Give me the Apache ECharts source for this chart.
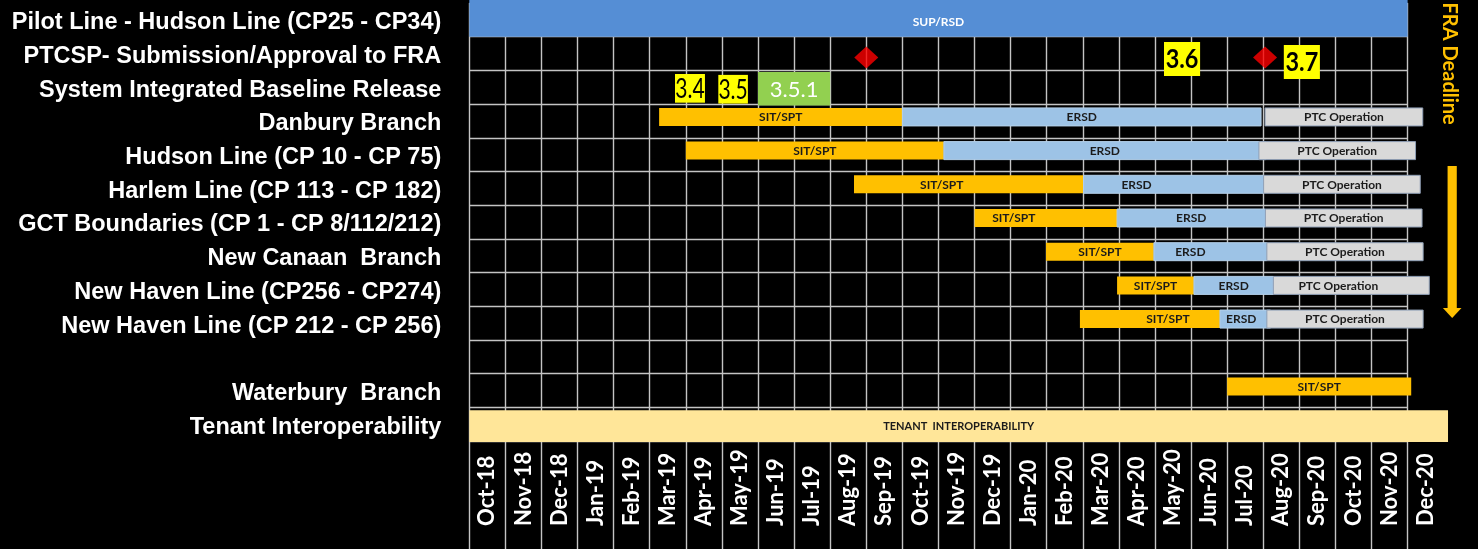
<!DOCTYPE html>
<html>
<head>
<meta charset="utf-8">
<title>PTC Implementation Schedule</title>
<script src="https://cdn.jsdelivr.net/npm/echarts@6/dist/echarts.min.js"></script>
<style>
  html, body { margin: 0; padding: 0; background: #000; }
  #chart { width: 1478px; height: 549px; }
</style>
</head>
<body>
<div id="chart"></div>
<script>
// Timeline columns (one per month). Positions below are in months counted from the start of Oct-18.
const months = ['Oct-18','Nov-18','Dec-18','Jan-19','Feb-19','Mar-19','Apr-19','May-19','Jun-19','Jul-19',
  'Aug-19','Sep-19','Oct-19','Nov-19','Dec-19','Jan-20','Feb-20','Mar-20','Apr-20','May-20','Jun-20',
  'Jul-20','Aug-20','Sep-20','Oct-20','Nov-20','Dec-20'];

// Schedule rows, top to bottom
const rowLabels = [
  'Pilot Line - Hudson Line (CP25 - CP34)',
  'PTCSP- Submission/Approval to FRA',
  'System Integrated Baseline Release',
  'Danbury Branch',
  'Hudson Line (CP 10 - CP 75)',
  'Harlem Line (CP 113 - CP 182)',
  'GCT Boundaries (CP 1 - CP 8/112/212)',
  'New Canaan  Branch',
  'New Haven Line (CP256 - CP274)',
  'New Haven Line (CP 212 - CP 256)',
  '',
  'Waterbury  Branch',
  'Tenant Interoperability'
];

// Full-row activity bars
const fullBarRows  = ['Pilot Line - Hudson Line (CP25 - CP34)', 'Tenant Interoperability'];
const fullBarText  = ['SUP/RSD', 'TENANT  INTEROPERABILITY'];
const fullBarStart = [0, 0];
const fullBarEnd   = [26, 27.12];

// Territory phases: SIT/SPT -> ERSD -> PTC Operation
const phaseRows = ['Danbury Branch', 'Hudson Line (CP 10 - CP 75)', 'Harlem Line (CP 113 - CP 182)',
  'GCT Boundaries (CP 1 - CP 8/112/212)', 'New Canaan  Branch', 'New Haven Line (CP256 - CP274)',
  'New Haven Line (CP 212 - CP 256)'];
const sitStart = [5.26, 6.0, 10.66, 14.0, 15.98, 17.95, 16.92];
const sitEnd   = [12.0, 13.15, 17.02, 17.95, 18.97, 20.08, 20.8];
const ersdEnd  = [21.94, 22.07, 22.01, 22.06, 22.1, 22.28, 22.2];
const ptcStart = [22.05, 21.88, 22.01, 22.06, 22.1, 22.28, 22.1];
const ptcEnd   = [26.42, 26.22, 26.35, 26.4, 26.43, 26.6, 26.43];

// Waterbury testing window
const waterburyStart = 21.0;
const waterburyEnd = 26.1;

// Software releases
const releaseNames = ['3.4', '3.5', '3.5.1', '3.6', '3.7'];
const releaseRows  = ['System Integrated Baseline Release', 'System Integrated Baseline Release',
  'System Integrated Baseline Release', 'PTCSP- Submission/Approval to FRA', 'PTCSP- Submission/Approval to FRA'];
const releaseStart = [5.70, 6.90, 8.0, 19.25, 22.57];
const releaseEnd   = [6.53, 7.72, 10.0, 20.25, 23.57];

// PTCSP submissions
const submissionMonths = [11.0, 22.05];
const submissionRow = 'PTCSP- Submission/Approval to FRA';

// Deadline marker
const deadlineLabel = 'FRA Deadline';
const deadlineMonth = 27.18;

// ---------- derived mark lists ----------
const segments = [];
phaseRows.forEach(function (row, i) {
  segments.push({ row: row, phase: 'sit',  label: 'SIT/SPT',       start: sitStart[i], end: sitEnd[i] });
  segments.push({ row: row, phase: 'ersd', label: 'ERSD',          start: sitEnd[i],   end: ersdEnd[i] });
  segments.push({ row: row, phase: 'ptc',  label: 'PTC Operation', start: ptcStart[i], end: ptcEnd[i] });
});
segments.push({ row: 'Waterbury  Branch', phase: 'sit', label: 'SIT/SPT', start: waterburyStart, end: waterburyEnd });

// ---------- styles ----------
const GRID_LINE = { color: '#c4c4c4', width: 1.4 };
const PHASE_STYLE = {
  sit:  { fill: '#FFC000', stroke: null },
  ersd: { fill: '#9DC3E6', stroke: '#b4d0ea' },
  ptc:  { fill: '#D9D9D9', stroke: '#8f9fb6' }
};
// horizontal nudges for a few bar captions (px)
const LABEL_SHIFT = {
  'Harlem Line (CP 113 - CP 182)|sit': -27,
  'Harlem Line (CP 113 - CP 182)|ersd': -37,
  'GCT Boundaries (CP 1 - CP 8/112/212)|sit': -32,
  'New Canaan  Branch|ersd': -20,
  'New Haven Line (CP256 - CP274)|ptc': -13,
  'New Haven Line (CP 212 - CP 256)|sit': 18,
  'New Haven Line (CP 212 - CP 256)|ersd': -4
};
const FULL_BAR_STYLE = [
  { fill: '#558ED5', color: '#ffffff', font: 'bold 12px Lato', topPad: -3, bottomPad: 0, textDy: 4 },
  { fill: '#FFE699', color: '#1b1b1b', font: 'bold 11px Lato', topPad: 3, bottomPad: 1, textDy: 0 }
];
const RELEASE_STYLE = {
  '3.4':   { fill: '#FFFF00', color: '#000', font: '27px Lato', sx: 0.78, dy: 1.1, h: 28.7 },
  '3.5':   { fill: '#FFFF00', color: '#000', font: '27px Lato', sx: 0.78, dy: 2.0, h: 28.7 },
  '3.5.1': { fill: '#92D050', color: '#fff', font: '22px Lato', sx: 1.0,  dy: 1.5, h: 33.3 },
  '3.6':   { fill: '#FFFF00', color: '#000', font: 'bold 26px Lato', sx: 0.9, dy: 5.5, h: 34 },
  '3.7':   { fill: '#FFFF00', color: '#000', font: 'bold 26px Lato', sx: 0.9, dy: 8.5, h: 34 }
};

function rowIndex(name) { return rowLabels.indexOf(name); }

function renderFullBar(params, api) {
  const i = params.dataIndex;
  const st = FULL_BAR_STYLE[i];
  const a = api.coord([api.value(0), api.value(2)]);
  const b = api.coord([api.value(1), api.value(2)]);
  const band = api.size([0, 1])[1];
  const top = a[1] - band / 2 + st.topPad;
  const bottom = a[1] + band / 2 + st.bottomPad;
  return {
    type: 'group',
    children: [
      { type: 'rect', shape: { x: a[0], y: top, width: b[0] - a[0], height: bottom - top }, style: { fill: st.fill } },
      { type: 'text', x: (a[0] + b[0]) / 2, y: (top + bottom) / 2 + st.textDy,
        style: { text: fullBarText[i], fill: st.color, font: st.font, align: 'center', verticalAlign: 'middle' } }
    ]
  };
}

function renderPhase(params, api) {
  const seg = segments[params.dataIndex];
  const st = PHASE_STYLE[seg.phase];
  const a = api.coord([api.value(0), api.value(2)]);
  const b = api.coord([api.value(1), api.value(2)]);
  const h = 18;
  const cy = a[1] - 4;
  const dx = LABEL_SHIFT[seg.row + '|' + seg.phase] || 0;
  return {
    type: 'group',
    children: [
      { type: 'rect', shape: { x: a[0], y: cy - h / 2, width: b[0] - a[0], height: h },
        style: { fill: st.fill, stroke: st.stroke || null, lineWidth: st.stroke ? 1 : 0 } },
      { type: 'text', x: (a[0] + b[0]) / 2 + dx, y: cy + 0.5,
        style: { text: seg.label, fill: '#1b1b1b', font: 'bold 12px Lato', align: 'center', verticalAlign: 'middle' } }
    ]
  };
}

function renderRelease(params, api) {
  const name = releaseNames[params.dataIndex];
  const st = RELEASE_STYLE[name];
  const a = api.coord([api.value(0), api.value(2)]);
  const b = api.coord([api.value(1), api.value(2)]);
  const cx = (a[0] + b[0]) / 2;
  const cy = a[1] + st.dy;
  return {
    type: 'group',
    children: [
      { type: 'rect', shape: { x: a[0], y: cy - st.h / 2, width: b[0] - a[0], height: st.h }, style: { fill: st.fill } },
      { type: 'text', x: cx, y: cy + 1, scaleX: st.sx,
        style: { text: name, fill: st.color, font: st.font, align: 'center', verticalAlign: 'middle' } }
    ]
  };
}

function renderDeadline(params, api) {
  const x = api.coord([api.value(0), 0])[0];
  const band = api.size([0, 1])[1];
  const top = api.coord([0, 0])[1] - band / 2;
  const textY = top + band * 1.8;
  const arrowTop = top + band * 4.84;
  const arrowTip = top + band * 9.35;
  const ax = x + 2;
  return {
    type: 'group',
    children: [
      { type: 'text', x: x - 1, y: textY, rotation: -Math.PI / 2,
        style: { text: deadlineLabel, fill: '#FFC000', font: 'bold 20px Lato', align: 'center', verticalAlign: 'middle' } },
      { type: 'rect', shape: { x: ax - 4.6, y: arrowTop, width: 9.2, height: arrowTip - 10 - arrowTop }, style: { fill: '#FFC000' } },
      { type: 'polygon', shape: { points: [[ax - 9.3, arrowTip - 10], [ax + 9.3, arrowTip - 10], [ax, arrowTip]] }, style: { fill: '#FFC000' } }
    ]
  };
}

const chart = echarts.init(document.getElementById('chart'));
chart.setOption({
  backgroundColor: '#000',
  animation: false,
  grid: [
    { left: 469.3, right: 70.4, top: 3, height: 438, outerBoundsMode: 'none' },
    { left: 469.3, right: 34.3, top: 441, bottom: 0, outerBoundsMode: 'none' }
  ],
  xAxis: [
    {
      gridIndex: 0, type: 'value', min: 0, max: 26, interval: 1,
      axisLine: { show: false }, axisTick: { show: false }, axisLabel: { show: false },
      splitLine: { show: true, lineStyle: GRID_LINE }
    },
    {
      gridIndex: 1, type: 'category', data: months, boundaryGap: true, position: 'bottom',
      axisLine: { show: false }, axisTick: { show: false },
      splitLine: { show: true, interval: 0, showMaxLine: false, lineStyle: GRID_LINE },
      axisLabel: {
        interval: 0, inside: true, rotate: 90, margin: 23, align: 'left', verticalAlign: 'middle',
        color: '#ffffff', fontFamily: 'Lato', fontWeight: 'bold', fontSize: 22
      }
    }
  ],
  yAxis: [
    {
      gridIndex: 0, type: 'category', data: rowLabels, inverse: true,
      axisLine: { show: false }, axisTick: { show: false },
      splitLine: { show: true, interval: 0, lineStyle: GRID_LINE },
      axisLabel: {
        interval: 0, margin: 28,
        formatter: function (v) { return '{row|' + v + '}'; },
        rich: {
          row: {
            color: '#ffffff', padding: [6, 0, 0, 0],
            fontFamily: 'Liberation Sans', fontWeight: 'bold', fontSize: 23.5
          }
        }
      }
    },
    { gridIndex: 1, type: 'value', show: false }
  ],
  series: [
    {
      name: 'Activity', type: 'custom', xAxisIndex: 0, yAxisIndex: 0, clip: false,
      renderItem: renderFullBar, encode: { x: [0, 1], y: 2 },
      data: fullBarRows.map(function (r, i) { return [fullBarStart[i], fullBarEnd[i], rowIndex(r)]; })
    },
    {
      name: 'Phases', type: 'custom', xAxisIndex: 0, yAxisIndex: 0, clip: false,
      renderItem: renderPhase, encode: { x: [0, 1], y: 2 },
      data: segments.map(function (s) { return [s.start, s.end, rowIndex(s.row)]; })
    },
    {
      name: 'Releases', type: 'custom', xAxisIndex: 0, yAxisIndex: 0, clip: false,
      renderItem: renderRelease, encode: { x: [0, 1], y: 2 },
      data: releaseNames.map(function (n, i) { return [releaseStart[i], releaseEnd[i], rowIndex(releaseRows[i])]; })
    },
    {
      name: 'Submissions', type: 'scatter', xAxisIndex: 0, yAxisIndex: 0,
      symbol: 'diamond', symbolSize: [24, 22], symbolOffset: [0, 4],
      itemStyle: { color: '#FF0000' },
      data: submissionMonths.map(function (m) { return [m, rowIndex(submissionRow)]; })
    },
    {
      name: 'Deadline', type: 'custom', xAxisIndex: 0, yAxisIndex: 0, clip: false,
      renderItem: renderDeadline, encode: { x: 0, y: 1 },
      data: [[deadlineMonth, 0]]
    }
  ]
});
</script>
</body>
</html>
